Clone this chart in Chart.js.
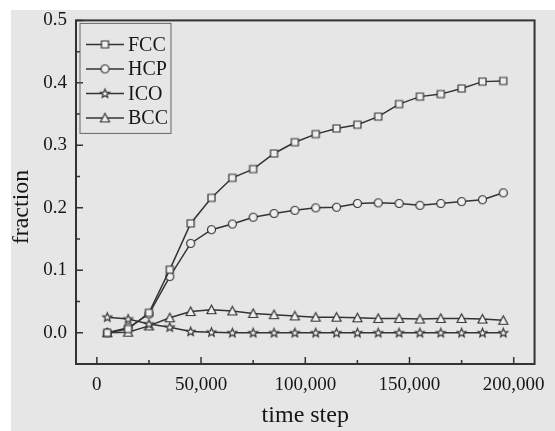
<!DOCTYPE html>
<html>
<head>
<meta charset="utf-8">
<script src="https://cdn.jsdelivr.net/npm/chart.js@4.4.0/dist/chart.umd.min.js"></script>
<style>
  html, body { margin: 0; padding: 0; background: #fff; }
  canvas { display: block; }
</style>
</head>
<body>
<canvas id="myChart" width="555" height="431"></canvas>
<script>
// time step of each sample
var steps = [5000, 15000, 25000, 35000, 45000, 55000, 65000, 75000, 85000, 95000,
             105000, 115000, 125000, 135000, 145000, 155000, 165000, 175000, 185000, 195000];
var fcc = [0.000, 0.006, 0.032, 0.101, 0.175, 0.216, 0.248, 0.262, 0.287, 0.305,
           0.318, 0.327, 0.333, 0.346, 0.366, 0.378, 0.382, 0.391, 0.402, 0.403];
var hcp = [0.000, 0.008, 0.030, 0.090, 0.143, 0.165, 0.174, 0.185, 0.191, 0.196,
           0.200, 0.201, 0.207, 0.208, 0.207, 0.204, 0.207, 0.210, 0.213, 0.224];
var ico = [0.025, 0.022, 0.014, 0.009, 0.002, 0.001, 0.000, 0.000, 0.000, 0.000,
           0.000, 0.000, 0.000, 0.000, 0.000, 0.000, 0.000, 0.000, 0.000, 0.000];
var bcc = [0.000, 0.001, 0.011, 0.024, 0.034, 0.037, 0.035, 0.031, 0.029, 0.027,
           0.025, 0.025, 0.024, 0.023, 0.023, 0.022, 0.023, 0.023, 0.022, 0.020];
var xTicks = [0, 50000, 100000, 150000, 200000];
var xMinor = [25000, 75000, 125000, 175000];
var yTicks = [0.0, 0.1, 0.2, 0.3, 0.4, 0.5];
var yMinor = [0.05, 0.15, 0.25, 0.35, 0.45];

var ink = '#333333';
var paper = '#e6e6e6';
var textInk = '#161616';

// hollow markers drawn on small canvases
function marker(kind) {
  var c = document.createElement('canvas');
  c.width = 13; c.height = 13;
  var g = c.getContext('2d');
  g.strokeStyle = ink; g.fillStyle = '#efefef'; g.lineWidth = 1.2;
  g.beginPath();
  if (kind == 'square') {
    g.rect(3, 3, 7, 7);
  } else if (kind == 'circle') {
    g.arc(6.5, 6.5, 4, 0, Math.PI * 2);
  } else if (kind == 'star') {
    for (var i = 0; i < 10; i++) {
      var r = i % 2 ? 2 : 4.6;
      var a = -Math.PI / 2 + i * Math.PI / 5;
      var px = 6.5 + r * Math.cos(a), py = 6.8 + r * Math.sin(a);
      if (i == 0) g.moveTo(px, py); else g.lineTo(px, py);
    }
    g.closePath();
  } else {
    g.moveTo(6.5, 2); g.lineTo(11, 10.5); g.lineTo(2, 10.5); g.closePath();
  }
  g.fill(); g.stroke();
  return c;
}

function pts(arr) {
  return arr.map(function (v, i) { return { x: steps[i], y: v }; });
}

function ds(label, arr, kind) {
  return {
    label: label,
    data: pts(arr),
    borderColor: ink,
    borderWidth: 1.5,
    pointStyle: marker(kind),
    pointRadius: 5,
    showLine: true,
    tension: 0
  };
}

var serif = '"Liberation Serif", "DejaVu Serif", serif';

var framePlugin = {
  id: 'frame',
  beforeDraw: function (chart) {
    var c = chart.ctx;
    c.save();
    c.fillStyle = '#ffffff';
    c.fillRect(0, 0, chart.width, chart.height);
    c.fillStyle = paper;
    c.fillRect(11, 10, chart.width - 11, chart.height - 10);
    c.restore();
  },
  afterDatasetsDraw: function (chart) {
    var c = chart.ctx, a = chart.chartArea;
    var sx = chart.scales.x, sy = chart.scales.y;
    c.save();
    c.strokeStyle = ink;
    c.lineWidth = 2;
    c.strokeRect(a.left, a.top, a.right - a.left, a.bottom - a.top);
    c.lineWidth = 1.5;
    c.beginPath();
    xTicks.forEach(function (v) { var p = sx.getPixelForValue(v); c.moveTo(p, a.bottom); c.lineTo(p, a.bottom - 7); });
    xMinor.forEach(function (v) { var p = sx.getPixelForValue(v); c.moveTo(p, a.bottom); c.lineTo(p, a.bottom - 4); });
    yTicks.forEach(function (v) { var p = sy.getPixelForValue(v); c.moveTo(a.left, p); c.lineTo(a.left + 7, p); });
    yMinor.forEach(function (v) { var p = sy.getPixelForValue(v); c.moveTo(a.left, p); c.lineTo(a.left + 4, p); });
    c.stroke();

    // y axis title, a bit below the middle like the original
    c.save();
    c.translate(22, 207);
    c.rotate(-Math.PI / 2);
    c.font = '24px ' + serif;
    c.fillStyle = textInk;
    c.textAlign = 'center';
    c.textBaseline = 'middle';
    c.fillText('fraction', 0, 0);
    c.restore();

    // legend box inside the plot
    var lx = a.left + 4, ly = a.top + 3, lw = 91, lh = 110;
    c.strokeStyle = '#666';
    c.lineWidth = 1;
    c.strokeRect(lx, ly, lw, lh);
    c.font = '20px ' + serif;
    c.textBaseline = 'middle';
    c.fillStyle = textInk;
    chart.data.datasets.forEach(function (d, i) {
      var y = ly + 21 + i * 24.5;
      c.strokeStyle = ink;
      c.lineWidth = 1.5;
      c.beginPath(); c.moveTo(lx + 6, y); c.lineTo(lx + 44, y); c.stroke();
      var img = d.pointStyle;
      c.drawImage(img, lx + 25 - img.width / 2, y - img.height / 2);
      c.fillText(d.label, lx + 48, y + 1);
    });
    c.restore();
  }
};

var ctx = document.getElementById('myChart').getContext('2d');
var myChart = new Chart(ctx, {
  type: 'scatter',
  data: {
    datasets: [
      ds('FCC', fcc, 'square'),
      ds('HCP', hcp, 'circle'),
      ds('ICO', ico, 'star'),
      ds('BCC', bcc, 'triangle')
    ]
  },
  options: {
    responsive: false,
    animation: false,
    layout: { padding: { top: 18, right: 9, left: 0, bottom: 0 } },
    plugins: { legend: { display: false }, tooltip: { enabled: false } },
    scales: {
      x: {
        type: 'linear',
        min: -10000,
        max: 210000,
        grid: { display: false, drawTicks: false },
        border: { display: false },
        afterBuildTicks: function (s) { s.ticks = xTicks.map(function (v) { return { value: v }; }); },
        afterFit: function (s) { s.height = 67; },
        ticks: {
          padding: 10,
          color: textInk,
          font: { family: serif, size: 19 },
          maxRotation: 0,
          callback: function (v) { return Number(v).toLocaleString('en-US'); }
        },
        title: {
          display: true,
          text: 'time step',
          color: textInk,
          font: { family: serif, size: 24 },
          padding: { top: 0, bottom: 1 }
        }
      },
      y: {
        min: -0.05,
        max: 0.5,
        grid: { display: false, drawTicks: false },
        border: { display: false },
        afterBuildTicks: function (s) { s.ticks = yTicks.map(function (v) { return { value: v }; }); },
        afterFit: function (s) { s.width = 76; },
        ticks: {
          padding: 9,
          color: textInk,
          font: { family: serif, size: 19 },
          callback: function (v) { return Number(v).toFixed(1); }
        }
      }
    }
  },
  plugins: [framePlugin]
});
</script>
</body>
</html>
